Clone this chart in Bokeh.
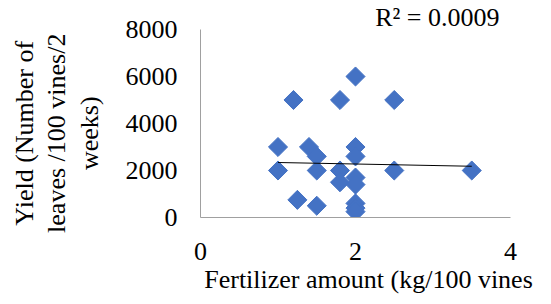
from bokeh.plotting import figure
from bokeh.models import FixedTicker, Range1d, Title
from bokeh.embed import file_html
from bokeh.resources import INLINE

# Data
fertilizer = [2.0, 1.2, 1.8, 2.5, 1.0, 1.4, 1.5, 2.0, 2.0, 1.0, 1.5, 1.8, 2.5, 3.5,
              2.0, 1.8, 2.0, 1.25, 1.5, 2.0, 2.0, 2.0]
yield_leaves = [6000, 5000, 5000, 5000, 3000, 3000, 2600, 3000, 2600, 2000, 2000, 2000,
                2000, 2000, 1700, 1500, 1400, 750, 500, 600, 400, 250]
trend_x = [1.0, 3.5]
trend_y = [2340, 2180]
x_ticks = [0, 2, 4]
y_ticks = [0, 2000, 4000, 6000, 8000]
r2_text = "R\u00b2 = 0.0009"
x_label = "Fertilizer amount (kg/100 vines"
y_label_lines = ["Yield (Number of", "leaves /100 vines/2", "weeks)"]

FONT = "Liberation Serif"
FS = "26px"
NB = "\u00a0"

p = figure(width=551, height=304, output_backend="svg", toolbar_location=None,
           x_range=Range1d(min(x_ticks), max(x_ticks)),
           y_range=Range1d(min(y_ticks), max(y_ticks)),
           min_border_left=200, min_border_right=41, min_border_top=29,
           min_border_bottom=87)
p.outline_line_color = None
p.grid.visible = False
p.background_fill_color = "white"
p.border_fill_color = "white"

p.scatter(fertilizer, yield_leaves, marker="square", angle=0.7853981634, size=13.5,
          fill_color="#4472C4", line_color="#4472C4")

p.line(trend_x, trend_y, line_color="black", line_width=1.2)

for ax in (p.xaxis[0], p.yaxis[0]):
    ax.axis_line_color = "#A0A0A0"
    ax.axis_line_width = 1
    ax.major_tick_line_color = None
    ax.minor_tick_line_color = None
    ax.major_tick_in = 0
    ax.major_tick_out = 0
    ax.minor_tick_in = 0
    ax.minor_tick_out = 0
    ax.major_label_text_font = FONT
    ax.major_label_text_font_size = FS
    ax.major_label_text_color = "black"
    ax.axis_label_text_font = FONT
    ax.axis_label_text_font_size = FS
    ax.axis_label_text_font_style = "normal"
    ax.axis_label_text_color = "black"

p.xaxis.ticker = FixedTicker(ticks=x_ticks)
p.yaxis.ticker = FixedTicker(ticks=y_ticks)
p.xaxis.major_label_standoff = 25
p.yaxis.major_label_standoff = 23

# x label: leading no-break spaces push the centred label right, as in the reference
p.xaxis.axis_label = NB * 4 + x_label
p.xaxis.axis_label_standoff = 2

# y label: trailing no-break spaces push the centred label down, as in the reference
p.yaxis.axis_label = "\n".join(line + NB * 3 for line in y_label_lines)
p.yaxis.axis_label_text_line_height = 1.12
p.yaxis.axis_label_standoff = 19

p.add_layout(Title(text=r2_text, align="right", offset=11, standoff=-4,
                   text_font=FONT, text_font_size=FS, text_font_style="normal",
                   text_color="black"), "above")

open("out.html", "w").write(file_html(p, INLINE))
